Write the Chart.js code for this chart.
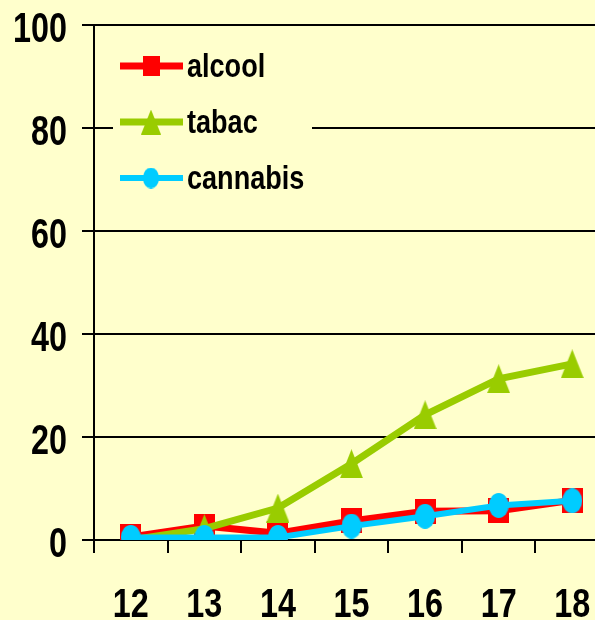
<!DOCTYPE html>
<html>
<head>
<meta charset="utf-8">
<script src="https://cdn.jsdelivr.net/npm/chart.js@4.4.1/dist/chart.umd.min.js"></script>
<style>
  html, body { margin:0; padding:0; background:#FFFFCC; overflow:hidden; }
  #wrap { width:628px; height:620px; }
</style>
</head>
<body>
<div id="wrap"><canvas id="c" width="628" height="620"></canvas></div>
<script>
// ── Data ───────────────────────────────────────────────────
const AGES     = ['12','13','14','15','16','17','18'];
const ALCOOL   = [0.6, 2.7, 1.3, 3.7, 5.6, 5.7, 7.7];
const TABAC    = [0, 2.2, 6.2, 14.8, 24.3, 31.3, 34.2];
const CANNABIS = [0.5, 0.5, 0.5, 2.7, 4.6, 6.7, 7.6];
const Y_TICKS  = [0, 20, 40, 60, 80, 100];

const BG   = '#FFFFCC';
const FONT = "'Liberation Sans', Arial, sans-serif";

// ── Marker images (the originals are a bit taller than wide) ──
function marker(shape, w, h, color) {
  const c = document.createElement('canvas');
  c.width = w; c.height = h;
  const g = c.getContext('2d');
  g.fillStyle = color;
  g.beginPath();
  if (shape === 'rect') {
    g.rect(0, 0, w, h);
  } else if (shape === 'triangle') {
    g.moveTo(w / 2, 0); g.lineTo(w, h); g.lineTo(0, h); g.closePath();
  } else {
    g.ellipse(w / 2, h / 2, w / 2, h / 2, 0, 0, Math.PI * 2);
  }
  g.fill();
  return c;
}

// narrow bold text (the original uses a condensed face we don't have)
function narrowText(ctx, txt, x, y, size, sx, align) {
  ctx.save();
  ctx.translate(x, y);
  ctx.scale(sx, 1);
  ctx.font = 'bold ' + size + 'px ' + FONT;
  ctx.textAlign = align;
  ctx.textBaseline = 'alphabetic';
  ctx.fillStyle = '#000';
  ctx.fillText(txt, 0, 0);
  ctx.restore();
}

// ── Background, tick labels, legend ────────────────────────
const bgPlugin = {
  id: 'bg',
  beforeDraw(chart) {
    const ctx = chart.ctx;
    ctx.save();
    ctx.fillStyle = BG;
    ctx.fillRect(0, 0, chart.width, chart.height);
    ctx.restore();
  }
};

const labelPlugin = {
  id: 'narrowLabels',
  afterDraw(chart) {
    const ctx = chart.ctx;
    const { x, y } = chart.scales;
    Y_TICKS.forEach(v => {
      narrowText(ctx, String(v), 67, y.getPixelForValue(v) + 17, 42, 0.77, 'right');
    });
    AGES.forEach((a, i) => {
      narrowText(ctx, a, x.getPixelForTick(i), 617, 41, 0.79, 'center');
    });
  }
};

const legendPlugin = {
  id: 'boxLegend',
  afterDraw(chart) {
    const ctx = chart.ctx;
    ctx.save();
    ctx.fillStyle = BG;
    ctx.fillRect(113, 38, 199, 160);
    const rows = [66, 122, 178];
    chart.data.datasets.forEach((ds, i) => {
      const yy = rows[i];
      ctx.strokeStyle = ds.borderColor;
      ctx.lineWidth = ds.borderWidth;
      ctx.beginPath();
      ctx.moveTo(120, yy);
      ctx.lineTo(183, yy);
      ctx.stroke();
      const m = ds.legendMarker;
      ctx.drawImage(m, 151 - m.width / 2, yy - m.height / 2);
      narrowText(ctx, ds.label, 187, yy + 11, 33, 0.82, 'left');
    });
    ctx.restore();
  }
};

function series(label, data, color, shape, size, legendSize, width, order) {
  const pt = marker(shape, size[0], size[1], color);
  return {
    label, data, order,
    borderColor: color, backgroundColor: color,
    borderWidth: width, tension: 0,
    pointStyle: pt, pointRadius: 12, pointHoverRadius: 12,
    legendMarker: marker(shape, legendSize[0], legendSize[1], color)
  };
}

new Chart(document.getElementById('c').getContext('2d'), {
  type: 'line',
  data: {
    labels: AGES,
    datasets: [
      series('alcool',   ALCOOL,   '#FF0000', 'rect',     [21, 25], [17, 20], 7, 2),
      series('tabac',    TABAC,    '#99CC00', 'triangle', [23, 29], [20, 25], 7, 1),
      series('cannabis', CANNABIS, '#00CCFF', 'circle',   [20, 25], [16, 21], 6, 0)
    ]
  },
  options: {
    responsive: false,
    animation: false,
    layout: { padding: { top: 25, right: 6, bottom: 0, left: 0 } },
    plugins: { legend: { display: false }, tooltip: { enabled: false } },
    scales: {
      x: {
        offset: true,
        grid: { offset: true, drawOnChartArea: false, color: '#000', lineWidth: 2, tickLength: 13, tickWidth: 2 },
        border: { color: '#000', width: 2 },
        ticks: { display: false },
        afterFit(s) { s.height = 80; }
      },
      y: {
        min: 0, max: 100,
        afterBuildTicks(s) { s.ticks = Y_TICKS.map(v => ({ value: v })); },
        grid: { color: '#000', lineWidth: 2, tickLength: 12 },
        border: { color: '#000', width: 2 },
        ticks: { display: false },
        afterFit(s) { s.width = 94; }
      }
    }
  },
  plugins: [bgPlugin, labelPlugin, legendPlugin]
});
</script>
</body>
</html>
